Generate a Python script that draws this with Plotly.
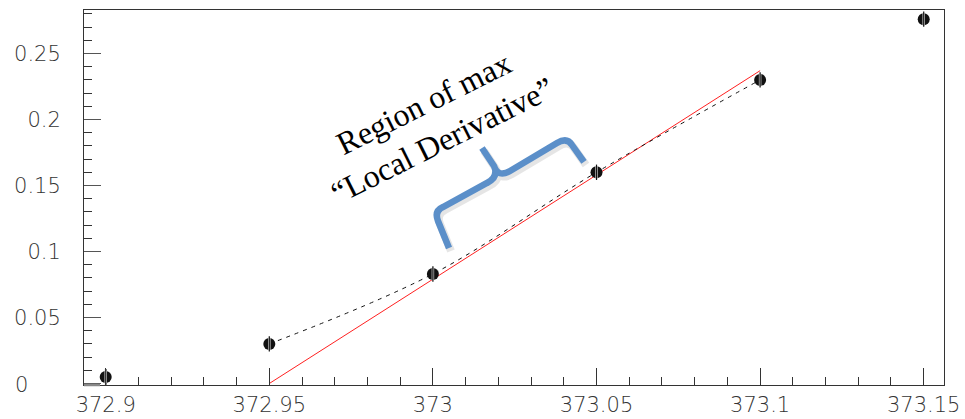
import plotly.graph_objects as go

# Scan points (position vs. signal) with their uncertainties
scan_x = [372.9, 372.95, 373.0, 373.05, 373.1, 373.15]
scan_y = [0.005, 0.030, 0.083, 0.160, 0.230, 0.276]
scan_err = [0.006, 0.004, 0.004, 0.004, 0.004, 0.004]

# Points joined by the smooth dashed interpolation
interp_x = [372.95, 373.0, 373.05, 373.1]
interp_y = [0.030, 0.083, 0.160, 0.230]

# Straight-line fit across the steepest part
fit_x = [372.95, 373.1]
fit_y = [0.0, 0.237]

x_ticks = [372.9, 372.95, 373.0, 373.05, 373.1, 373.15]
x_tick_text = ["372.9", "372.95", "373", "373.05", "373.1", "373.15"]
y_ticks = [0, 0.05, 0.1, 0.15, 0.2, 0.25]
y_tick_text = ["", "0.05", "0.1", "0.15", "0.2", "0.25"]

W, H = 965, 419
ML, MR, MT, MB = 84, 21, 10, 34
PW, PH = W - ML - MR, H - MT - MB


def to_paper(px, py):
    return (px - ML) / PW, (H - MB - py) / PH


def brace_path(points, dx=0.0, dy=0.0):
    out = []
    for cmd, coords in points:
        parts = []
        for px, py in coords:
            u, v = to_paper(px + dx, py + dy)
            parts.append(f"{u:.5f},{v:.5f}")
        out.append(cmd + " " + " ".join(parts))
    return " ".join(out)


# Curly brace outline in pixel space
brace_left = [
    ("M", [(449, 248)]),
    ("L", [(438, 221)]),
    ("Q", [(434, 211), (443, 207)]),
    ("L", [(487, 183)]),
    ("Q", [(499, 177), (494, 166)]),
    ("L", [(482, 148)]),
]
brace_right = [
    ("M", [(494, 166)]),
    ("Q", [(498, 178), (510, 171)]),
    ("L", [(557, 143)]),
    ("Q", [(567, 137), (572, 145)]),
    ("L", [(584, 162)]),
]

fig = go.Figure()

fig.add_trace(go.Scatter(
    x=fit_x, y=fit_y, mode="lines",
    line=dict(color="#ff2020", width=1), hoverinfo="skip", showlegend=False))

fig.add_trace(go.Scatter(
    x=interp_x, y=interp_y, mode="lines",
    line=dict(color="#111111", width=1, dash="4px,5px", shape="spline"),
    hoverinfo="skip", showlegend=False))

fig.add_trace(go.Scatter(
    x=scan_x, y=scan_y, mode="markers",
    error_y=dict(type="data", array=scan_err, color="#111111", thickness=1.5, width=0),
    marker=dict(symbol="circle", size=12, color="#111111", line=dict(width=0)),
    showlegend=False))
fig.add_trace(go.Scatter(
    x=scan_x, y=scan_y, mode="markers",
    marker=dict(symbol="line-ns", size=9, line=dict(color="#cccccc", width=2.5)),
    hoverinfo="skip", showlegend=False))
fig.add_trace(go.Scatter(
    x=scan_x, y=scan_y, mode="markers",
    marker=dict(symbol="line-ns", size=11, line=dict(color="#111111", width=1.2)),
    hoverinfo="skip", showlegend=False))

shapes = [
    dict(type="path", xref="paper", yref="paper",
         path=brace_path(brace_left, 2, 3) + " " + brace_path(brace_right, 2, 3),
         line=dict(color="rgba(0,0,0,0.10)", width=8)),
    dict(type="path", xref="paper", yref="paper",
         path=brace_path(brace_left) + " " + brace_path(brace_right),
         line=dict(color="#5b8fc9", width=6.5)),
]
u0, v0 = to_paper(84, 385)
u1, _ = to_paper(100, 385)
shapes.append(dict(type="line", xref="paper", yref="paper", x0=u0, x1=u1, y0=v0, y1=v0,
                   line=dict(color="#888888", width=2.5)))

tick_font = dict(family="DejaVu Sans", size=21, color="#333333", weight=200)

ax, ay = to_paper(433, 122)
zx, zy = to_paper(21, 385)
annotations = [
    dict(text="Region of max<br>\u201cLocal Derivative\u201d", xref="paper", yref="paper",
         x=ax, y=ay, xanchor="center", yanchor="middle", showarrow=False, textangle=-26.5,
         font=dict(family="Liberation Serif", size=32, color="#000000")),
    dict(text="0", xref="paper", yref="paper", x=zx, y=zy, xanchor="center", yanchor="middle",
         showarrow=False, font=tick_font),
]

fig.update_layout(
    width=W, height=H,
    margin=dict(l=ML, r=MR, t=MT, b=MB, autoexpand=False),
    paper_bgcolor="white", plot_bgcolor="white",
    shapes=shapes, annotations=annotations,
    xaxis=dict(
        range=[372.89337, 373.1562], showgrid=False, zeroline=False, automargin=False,
        tickvals=x_ticks, ticktext=x_tick_text, tickfont=tick_font, ticklabelstandoff=1,
        ticks="inside", ticklen=17, tickwidth=1, tickcolor="#333333",
        minor=dict(dtick=0.01, tick0=372.9, ticks="inside", ticklen=8, tickcolor="#333333"),
        showline=True, linecolor="#333333", linewidth=1, mirror=True,
    ),
    yaxis=dict(
        range=[-0.00114, 0.28295], showgrid=False, zeroline=False, automargin=False,
        tickvals=y_ticks, ticktext=y_tick_text, tickfont=tick_font, ticklabelstandoff=18,
        ticks="inside", ticklen=17, tickwidth=1, tickcolor="#555555",
        minor=dict(dtick=0.01, tick0=0, ticks="inside", ticklen=8, tickcolor="#333333"),
        showline=True, linecolor="#333333", linewidth=1, mirror=True,
    ),
)

fig.write_html("out.html")
